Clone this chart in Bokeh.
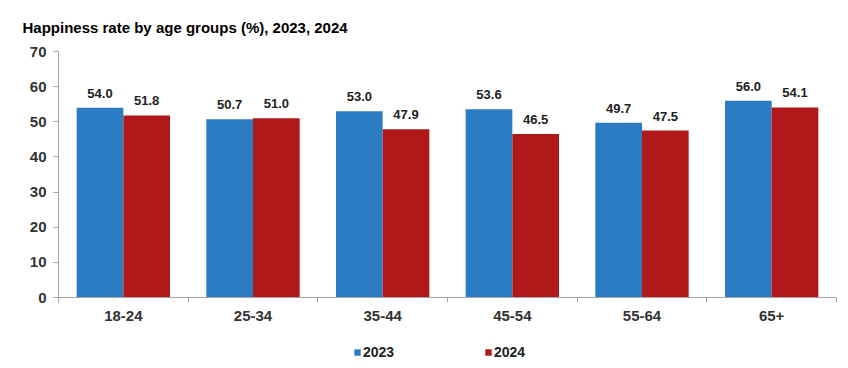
from bokeh.plotting import figure
from bokeh.layouts import column
from bokeh.models import (ColumnDataSource, Range1d, LinearAxis, FixedTicker, LabelSet,
                          Legend, LegendItem, Title)
from bokeh.core.properties import value
from bokeh.transform import dodge
from bokeh.embed import file_html
from bokeh.resources import INLINE

categories = ["18-24", "25-34", "35-44", "45-54", "55-64", "65+"]
values_2023 = [54.0, 50.7, 53.0, 53.6, 49.7, 56.0]
values_2024 = [51.8, 51.0, 47.9, 46.5, 47.5, 54.1]
series_names = ["2023", "2024"]
y_ticks = [0, 10, 20, 30, 40, 50, 60, 70]

BLUE = "#2c7cc4"
RED = "#b1181a"
AXIS = "#a6a6a6"
FONT = "Liberation Sans"

n = len(categories)
centers = [i + 0.5 for i in range(n)]
bounds = list(range(n + 1))
src = ColumnDataSource(dict(
    x=centers,
    v23=values_2023,
    v24=values_2024,
    t23=[f"{v:.1f}" for v in values_2023],
    t24=[f"{v:.1f}" for v in values_2024],
))

p = figure(width=840, height=331, output_backend="svg", toolbar_location=None,
           x_range=Range1d(0, n), y_range=Range1d(0, 70),
           x_axis_location=None, y_axis_location=None,
           min_border_left=58, min_border_right=4, min_border_top=51, min_border_bottom=34)
p.outline_line_color = None
p.xgrid.grid_line_color = None
p.ygrid.grid_line_color = None
p.background_fill_color = "white"
p.border_fill_color = "white"

title = Title(text="Happiness rate by age groups (%), 2023, 2024", align="left",
              text_font=FONT, text_font_size="15px", text_font_style="bold",
              text_color="#000000", offset=-36, standoff=31)
p.add_layout(title, "above")

r23 = p.vbar(x=dodge("x", -0.18), top="v23", width=0.36,
             source=src, fill_color=BLUE, line_color=None)
r24 = p.vbar(x=dodge("x", 0.18), top="v24", width=0.36,
             source=src, fill_color=RED, line_color=None)

for col, off in (("23", -0.18), ("24", 0.18)):
    p.add_layout(LabelSet(x=dodge("x", off), y="v" + col, text="t" + col,
                          source=src, text_align="center", text_baseline="bottom",
                          y_offset=10, text_font=value(FONT), text_font_size=value("13px"),
                          text_font_style=value("bold"), text_color="#222222"))

# y axis
yaxis = LinearAxis(ticker=FixedTicker(ticks=y_ticks))
yaxis.axis_line_color = AXIS
yaxis.major_tick_line_color = AXIS
yaxis.major_tick_in = 0
yaxis.major_tick_out = 5
yaxis.minor_tick_line_color = None
yaxis.major_label_text_font = FONT
yaxis.major_label_text_font_size = "15px"
yaxis.major_label_text_font_style = "bold"
yaxis.major_label_text_color = "#333333"
yaxis.major_label_standoff = 7
p.add_layout(yaxis, "left")

# x axis: labels at category centres, ticks at category boundaries
xaxis = LinearAxis(ticker=FixedTicker(ticks=centers, minor_ticks=bounds),
                   major_label_overrides={c: lab for c, lab in zip(centers, categories)})
xaxis.axis_line_color = AXIS
xaxis.major_tick_line_color = None
xaxis.major_tick_in = 0
xaxis.major_tick_out = 5
xaxis.minor_tick_line_color = AXIS
xaxis.minor_tick_in = 0
xaxis.minor_tick_out = 5
xaxis.major_label_text_font = FONT
xaxis.major_label_text_font_size = "15px"
xaxis.major_label_text_font_style = "bold"
xaxis.major_label_text_color = "#333333"
xaxis.major_label_standoff = 8
p.add_layout(xaxis, "below")

# legend strip below the chart (frame aligned with the chart's frame)
lg = figure(width=840, height=29, output_backend="svg", toolbar_location=None,
            x_range=Range1d(0, n), y_range=Range1d(0, 70),
            x_axis_location=None, y_axis_location=None,
            min_border_left=58, min_border_right=4, min_border_top=0, min_border_bottom=0)
lg.outline_line_color = None
lg.xgrid.grid_line_color = None
lg.ygrid.grid_line_color = None
lg.background_fill_color = "white"
lg.border_fill_color = "white"
g23 = lg.vbar(x=dodge("x", -0.18), top="v23", width=0.36, source=src,
              fill_color=BLUE, line_color=None, visible=False)
g24 = lg.vbar(x=dodge("x", 0.18), top="v24", width=0.36, source=src,
              fill_color=RED, line_color=None, visible=False)

legend = Legend(items=[LegendItem(label=series_names[0], renderers=[g23]),
                       LegendItem(label=series_names[1], renderers=[g24])],
                orientation="horizontal", location=(295, 0),
                glyph_width=8, glyph_height=8, label_standoff=2, label_width=47,
                spacing=74, padding=0, margin=0, border_line_color=None,
                background_fill_alpha=0,
                label_text_font=FONT, label_text_font_size="14px",
                label_text_font_style="bold", label_text_color="#222222")
lg.add_layout(legend, "center")

layout = column(p, lg, spacing=0)
open("out.html", "w").write(file_html(layout, INLINE))
